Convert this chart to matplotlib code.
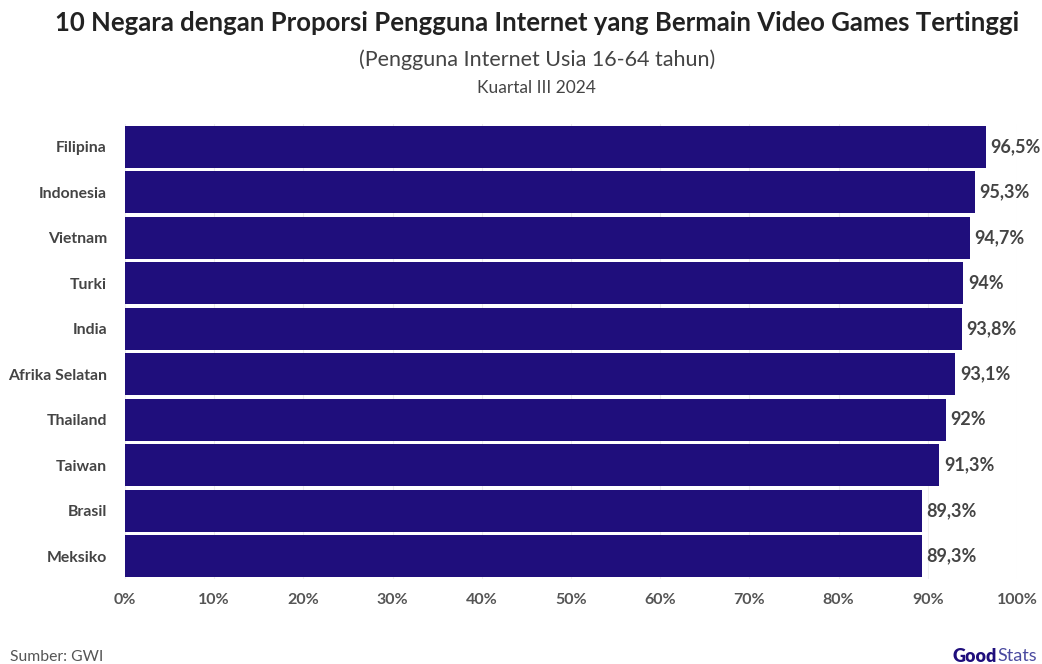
import matplotlib
matplotlib.use("Agg")
from matplotlib import pyplot as plt
import numpy as np

countries = ["Filipina", "Indonesia", "Vietnam", "Turki", "India",
             "Afrika Selatan", "Thailand", "Taiwan", "Brasil", "Meksiko"]
values = [96.5, 95.3, 94.7, 94.0, 93.8, 93.1, 92.0, 91.3, 89.3, 89.3]
value_labels = ["96,5%", "95,3%", "94,7%", "94%", "93,8%",
                "93,1%", "92%", "91,3%", "89,3%", "89,3%"]
xticks = [0, 10, 20, 30, 40, 50, 60, 70, 80, 90, 100]

bar_color = "#1f0e7c"
text_color = "#444444"
plt.rcParams['font.family'] = ['Lato', 'DejaVu Sans']

fig = plt.figure(figsize=(10.42, 6.64), dpi=100)
ax = fig.add_axes([125/1042, 1-579/664, (1017-125)/1042, (579-124)/664])

y = np.arange(len(countries))
ax.barh(y, values, height=0.92, color=bar_color, zorder=2)
for yi, v, lab in zip(y, values, value_labels):
    ax.text(v + 0.5, yi, lab, va="center", ha="left", fontsize=13,
            fontweight="bold", color=text_color)

ax.set_ylim(9.5, -0.5)
ax.set_xlim(0, 100)
ax.set_yticks(y)
ax.set_yticklabels(countries, fontsize=11.3, fontweight="bold", color=text_color)
ax.set_xticks(xticks)
ax.set_xticklabels([f"{t}%" for t in xticks], fontsize=11.5, fontweight="bold", color="#555555")
ax.tick_params(axis="y", length=0, pad=13)
ax.tick_params(axis="x", length=0, pad=10)
ax.grid(axis="x", color="#eeeeee", linewidth=0.8, zorder=0)
for s in ax.spines.values():
    s.set_visible(False)

fig.text(0.515, 1-23/664, "10 Negara dengan Proporsi Pengguna Internet yang Bermain Video Games Tertinggi",
         ha="center", va="center", fontsize=18.5, fontweight="bold", color="#222222")
fig.text(0.515, 1-60/664, "(Pengguna Internet Usia 16-64 tahun)", ha="center", va="center",
         fontsize=15.5, color="#444444")
fig.text(0.515, 1-88/664, "Kuartal III 2024", ha="center", va="center",
         fontsize=12.5, color="#444444")
fig.text(10/1042, 1-657/664, "Sumber: GWI", ha="left", va="center", fontsize=11.3, color="#555555")
fig.text(1037/1042, 1-656/664, "Stats", ha="right", va="center", fontsize=13,
         color="#4a4aa0")
fig.text(997/1042, 1-656/664, "Good", ha="right", va="center", fontsize=13,
         fontweight="heavy", color="#1f0e7c")

fig.savefig("out.png", dpi=100)
